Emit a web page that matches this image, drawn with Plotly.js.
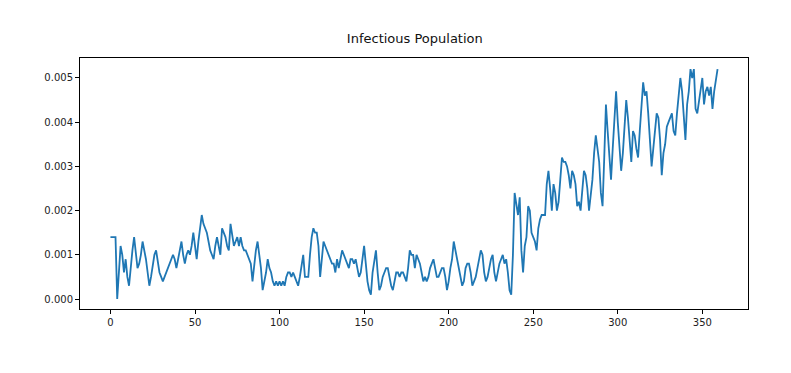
<!DOCTYPE html>
<html>
<head>
<meta charset="utf-8">
<script src="https://cdn.plot.ly/plotly-3.0.1.min.js"></script>
<style>
html,body{margin:0;padding:0;background:#fff;}
#chart{width:791px;height:373px;}
</style>
</head>
<body>
<div id="chart"></div>
<script>
// Infectious population values, in units of 0.0001, day 0..359
const valuesE4 = [
14,14,14,14,0,6,12,10,6,9,
5,3,8,11,14,11,7,8,10,13,
11,9,6,3,5,8,10,11,8,6,
5,4,5,6,7,8,9,10,9,7,
9,11,13,10,8,10,11,10,12,15,
12,9,13,16,19,17,16,15,13,11,
10,9,12,14,12,10,16,15,14,12,
11,17,14,12,13,14,12,14,12,11,
11,10,9,8,4,8,11,13,10,7,
2,4,6,9,7,6,4,3,4,3,
4,3,4,3,5,6,6,5,6,5,
4,3,5,8,10,5,5,5,10,14,
16,15,15,12,5,9,13,12,11,10,
9,8,8,6,9,7,9,11,10,9,
8,7,9,9,8,9,7,5,6,9,
12,8,4,2,1,6,9,11,6,2,
3,5,6,7,7,5,3,2,4,6,
6,5,6,6,5,4,7,11,10,10,
7,10,9,8,6,4,5,4,5,7,
8,9,7,5,5,6,7,7,5,2,
4,7,9,13,11,9,7,5,3,4,
7,8,8,6,3,4,5,7,9,11,
10,6,4,5,7,9,10,6,4,6,
8,9,10,8,9,6,2,1,10,24,
21,19,23,11,6,12,14,21,20,15,
14,13,11,16,18,19,19,19,26,29,
25,20,26,24,20,22,27,32,31,31,
30,28,25,29,28,26,21,22,20,24,
29,28,25,20,23,27,33,37,34,31,
24,21,32,44,38,31,27,34,40,47,
40,35,29,33,39,45,41,36,31,38,
37,34,32,38,44,49,46,47,42,35,
30,34,38,42,41,36,28,33,35,39,
40,41,42,38,37,42,46,50,47,41,
36,44,47,52,50,52,43,42,45,48,
50,44,47,48,46,48,43,47,50,52
];
const days = valuesE4.map((_, i) => i);
const infectious = valuesE4.map(v => v / 10000);
const xTicks = [0, 50, 100, 150, 200, 250, 300, 350];
const yTicks = [0, 0.001, 0.002, 0.003, 0.004, 0.005];
const yTickLabels = ["0.000", "0.001", "0.002", "0.003", "0.004", "0.005"];

const trace = {
  x: days,
  y: infectious,
  type: 'scatter',
  mode: 'lines',
  line: {color: '#1f77b4', width: 1.8},
  hoverinfo: 'skip'
};

const axisCommon = {
  showgrid: false,
  zeroline: false,
  showline: true,
  mirror: true,
  linecolor: '#000',
  linewidth: 1,
  ticks: 'outside',
  ticklen: 4,
  tickwidth: 1,
  tickcolor: '#000',
  tickfont: {family: 'DejaVu Sans', size: 10, color: '#222'}
};

const layout = {
  width: 791,
  height: 373,
  paper_bgcolor: '#fff',
  plot_bgcolor: '#fff',
  margin: {l: 80, r: 43, t: 58, b: 64},
  showlegend: false,
  title: {
    text: 'Infectious Population',
    font: {family: 'DejaVu Sans', size: 13, color: '#111'},
    x: 0.5244, xanchor: 'center',
    y: 0.897, yanchor: 'middle'
  },
  xaxis: Object.assign({}, axisCommon, {
    range: [-18, 377],
    tickvals: xTicks,
    ticktext: xTicks.map(String)
  }),
  yaxis: Object.assign({}, axisCommon, {
    range: [-0.000226, 0.005452],
    tickvals: yTicks,
    ticktext: yTickLabels
  })
};

Plotly.newPlot('chart', [trace], layout, {displayModeBar: false, staticPlot: true});
</script>
</body>
</html>
